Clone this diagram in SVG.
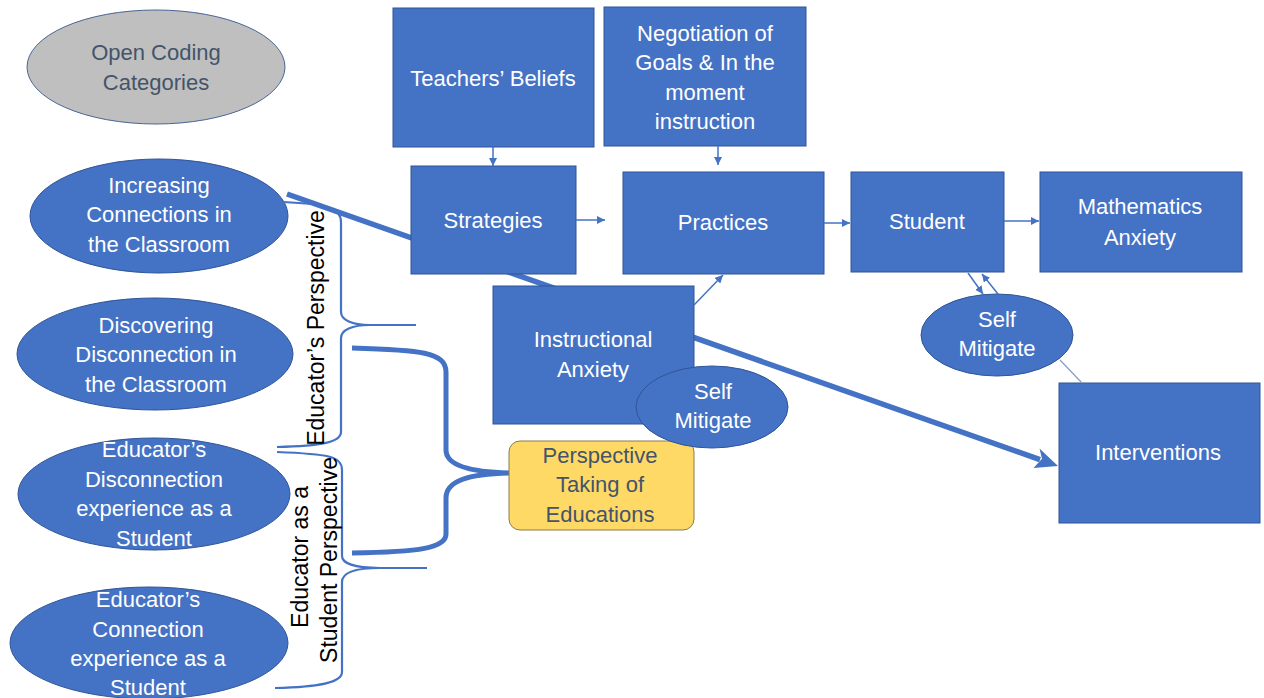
<svg xmlns="http://www.w3.org/2000/svg" width="1264" height="698" viewBox="0 0 1264 698">
<style>
.box{fill:#4472c4;stroke:#2f5597;stroke-width:1}
.ell{fill:#4472c4;stroke:#2f5597;stroke-width:1}
.t{font-family:"Liberation Sans",Arial,sans-serif;font-size:22px;fill:#ffffff;text-anchor:middle}
.td{font-family:"Liberation Sans",Arial,sans-serif;font-size:22px;fill:#44546a;text-anchor:middle}
.tv{font-family:"Liberation Sans",Arial,sans-serif;font-size:23px;fill:#000000;text-anchor:middle}
.thin{stroke:#4472c4;stroke-width:1.5;fill:none}
.brace{stroke:#4472c4;stroke-width:2.2;fill:none}
.brace3{stroke:#4472c4;stroke-width:5;fill:none}
</style>
<defs>
<marker id="arr" viewBox="0 0 10 10" refX="10" refY="5" markerWidth="8" markerHeight="8" markerUnits="userSpaceOnUse" orient="auto">
<path d="M0,0 L10,5 L0,10 z" fill="#4472c4"/>
</marker>
</defs>
<rect width="1264" height="698" fill="#ffffff"/>

<g id="connectors">
<line x1="287" y1="194" x2="1040" y2="459.6" stroke="#4472c4" stroke-width="5.5"/>
<polygon points="1058,466 1039.5,448.5 1042,458.8 1033.5,468" fill="#4472c4"/>
</g>

<g id="open-coding">
<ellipse cx="156" cy="67" rx="129" ry="57" fill="#bfbfbf" stroke="#4a6596" stroke-width="1"/>
<text class="td" x="156" y="60">Open Coding</text>
<text class="td" x="156" y="90">Categories</text>
</g>

<g id="increasing">
<ellipse class="ell" cx="159" cy="216" rx="129" ry="57"/>
<text class="t" x="159" y="193">Increasing</text>
<text class="t" x="159" y="222">Connections in</text>
<text class="t" x="159" y="252">the Classroom</text>
</g>

<g id="discovering">
<ellipse class="ell" cx="155" cy="354" rx="138" ry="56"/>
<text class="t" x="156" y="333">Discovering</text>
<text class="t" x="156" y="362">Disconnection in</text>
<text class="t" x="156" y="392">the Classroom</text>
</g>

<g id="edu-disconnection">
<ellipse class="ell" cx="154" cy="494" rx="136" ry="56"/>
<text class="t" x="154" y="457">Educator’s</text>
<text class="t" x="154" y="487">Disconnection</text>
<text class="t" x="154" y="516">experience  as a</text>
<text class="t" x="154" y="546">Student</text>
</g>

<g id="edu-connection">
<ellipse class="ell" cx="149" cy="643" rx="139" ry="56"/>
<text class="t" x="148" y="607">Educator’s</text>
<text class="t" x="148" y="637">Connection</text>
<text class="t" x="148" y="666">experience  as a</text>
<text class="t" x="148" y="695">Student</text>
</g>

<g id="braces">
<path class="brace" d="M283 202 C328 204 341 208 341 222 L341 312 C341 320 352 325 370 325 L416 325 M370 325 C352 325 341 330 341 338 L341 432 C341 442 322 446 277 447"/>
<path class="brace" d="M277 452 C328 454 342 456 342 470 L342 556 C342 563 354 568 380 568 L427 568 M380 568 C354 568 342 573 342 582 L342 672 C342 682 322 687 275 688"/>
<path class="brace3" d="M352 348 C420 350 446 352 446 372 L446 450 C446 465 468 472 509 473 M509 473 C468 474 446 481 446 498 L446 534 C446 548 420 552 352 553"/>
</g>

<g id="label-educator-perspective">
<text class="tv" transform="translate(324 328) rotate(-90)">Educator’s  Perspective</text>
</g>
<g id="label-student-perspective">
<text class="tv" transform="translate(308 557) rotate(-90)">Educator as a</text>
<text class="tv" transform="translate(337 560) rotate(-90)">Student Perspective</text>
</g>

<g id="teachers-beliefs">
<rect class="box" x="393" y="8" width="201" height="139"/>
<text class="t" x="493" y="86">Teachers’ Beliefs</text>
</g>

<g id="negotiation">
<rect class="box" x="604" y="7" width="202" height="139"/>
<text class="t" x="705" y="41">Negotiation of</text>
<text class="t" x="705" y="70">Goals &amp; In the</text>
<text class="t" x="705" y="100">moment</text>
<text class="t" x="705" y="129">instruction</text>
</g>

<g id="strategies">
<rect class="box" x="411" y="166" width="165" height="108"/>
<text class="t" x="493" y="228">Strategies</text>
</g>

<g id="practices">
<rect class="box" x="623" y="172" width="201" height="102"/>
<text class="t" x="723" y="230">Practices</text>
</g>

<g id="student">
<rect class="box" x="851" y="172" width="153" height="100"/>
<text class="t" x="927" y="229">Student</text>
</g>

<g id="math-anxiety">
<rect class="box" x="1040" y="172" width="202" height="100"/>
<text class="t" x="1140" y="214">Mathematics</text>
<text class="t" x="1140" y="245">Anxiety</text>
</g>

<g id="instructional-anxiety">
<rect class="box" x="493" y="286" width="201" height="138"/>
<text class="t" x="593" y="347">Instructional</text>
<text class="t" x="593" y="377">Anxiety</text>
</g>

<g id="perspective-taking">
<rect x="509" y="441" width="185" height="89" rx="11" ry="11" fill="#ffd966" stroke="#8c7a4a" stroke-width="1"/>
<text class="td" x="600" y="463">Perspective</text>
<text class="td" x="600" y="492">Taking of</text>
<text class="td" x="600" y="522">Educations</text>
</g>

<g id="self-mitigate-1">
<ellipse class="ell" cx="712" cy="407" rx="76" ry="41"/>
<text class="t" x="713" y="399">Self</text>
<text class="t" x="713" y="428">Mitigate</text>
</g>

<g id="self-mitigate-2">
<ellipse class="ell" cx="997" cy="335" rx="76" ry="41"/>
<text class="t" x="997" y="327">Self</text>
<text class="t" x="997" y="356">Mitigate</text>
</g>

<g id="interventions">
<rect class="box" x="1059" y="383" width="201" height="140"/>
<text class="t" x="1158" y="460">Interventions</text>
</g>

<g id="thin-connectors">
<line class="thin" x1="493" y1="147" x2="493" y2="166" marker-end="url(#arr)"/>
<line class="thin" x1="718" y1="146" x2="718" y2="165" marker-end="url(#arr)"/>
<line class="thin" x1="576" y1="220" x2="605" y2="220" marker-end="url(#arr)"/>
<line class="thin" x1="824" y1="223" x2="850" y2="223" marker-end="url(#arr)"/>
<line class="thin" x1="1004" y1="221" x2="1039" y2="221" marker-end="url(#arr)"/>
<line class="thin" x1="694" y1="305" x2="723" y2="275" marker-end="url(#arr)"/>
<line class="thin" x1="968" y1="273" x2="983" y2="294" marker-end="url(#arr)"/>
<line class="thin" x1="998" y1="294" x2="982" y2="274" marker-end="url(#arr)"/>
<line x1="1060" y1="360" x2="1082" y2="383" stroke="#8a9cc0" stroke-width="1.2"/>
</g>
</svg>
